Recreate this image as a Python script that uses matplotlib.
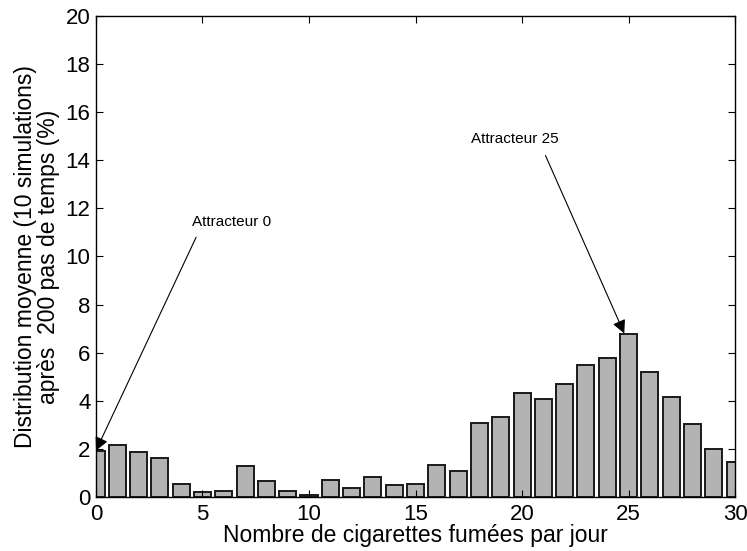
import numpy as np
import matplotlib.pyplot as plt

plt.rcParams['font.family'] = ['Liberation Sans', 'DejaVu Sans']

# nombre de cigarettes et distribution moyenne (%)
cigarettes = np.arange(0, 31)
distribution = [1.93, 2.16, 1.87, 1.62, 0.54, 0.2, 0.26, 1.27, 0.65, 0.26,
                0.1, 0.69, 0.39, 0.84, 0.5, 0.55, 1.33, 1.08, 3.08, 3.33,
                4.31, 4.06, 4.7, 5.47, 5.77, 6.78, 5.2, 4.16, 3.04, 2.0, 1.47]

fig = plt.figure(figsize=(7.47, 5.51), dpi=100)
ax = fig.add_axes([0.1285, 0.098, 0.8555, 0.873])

ax.bar(cigarettes, distribution, width=0.8, color='#b3b3b3',
       edgecolor='#1a1a1a', linewidth=1.4)

ax.set_xlim(0, 30)
ax.set_ylim(0, 20)
ax.set_xticks(np.arange(0, 31, 5))
ax.set_yticks(np.arange(0, 21, 2))
ax.tick_params(direction='in', top=True, right=True, labelsize=16, length=5)
ax.tick_params(axis='x', pad=5)
ax.tick_params(axis='y', pad=4)
for s in ax.spines.values():
    s.set_linewidth(1.0)

ax.set_xlabel('Nombre de cigarettes fumées par jour', fontsize=16.5, labelpad=-1)
ax.set_ylabel('Distribution moyenne (10 simulations)\naprès  200 pas de temps (%)',
              fontsize=16.5, labelpad=4, linespacing=1.0)

ax.annotate('', xy=(0, 1.93), xytext=(4.7, 10.8),
            arrowprops=dict(arrowstyle='-|>', color='black', lw=0.8,
                            mutation_scale=20, shrinkA=0, shrinkB=0))
ax.text(4.5, 11.45, 'Attracteur 0', fontsize=11, ha='left', va='center')

ax.annotate('', xy=(24.8, 6.8), xytext=(21.1, 14.2),
            arrowprops=dict(arrowstyle='-|>', color='black', lw=0.8,
                            mutation_scale=20, shrinkA=0, shrinkB=0))
ax.text(17.6, 14.9, 'Attracteur 25', fontsize=11, ha='left', va='center')

fig.savefig('out.png', dpi=100)
